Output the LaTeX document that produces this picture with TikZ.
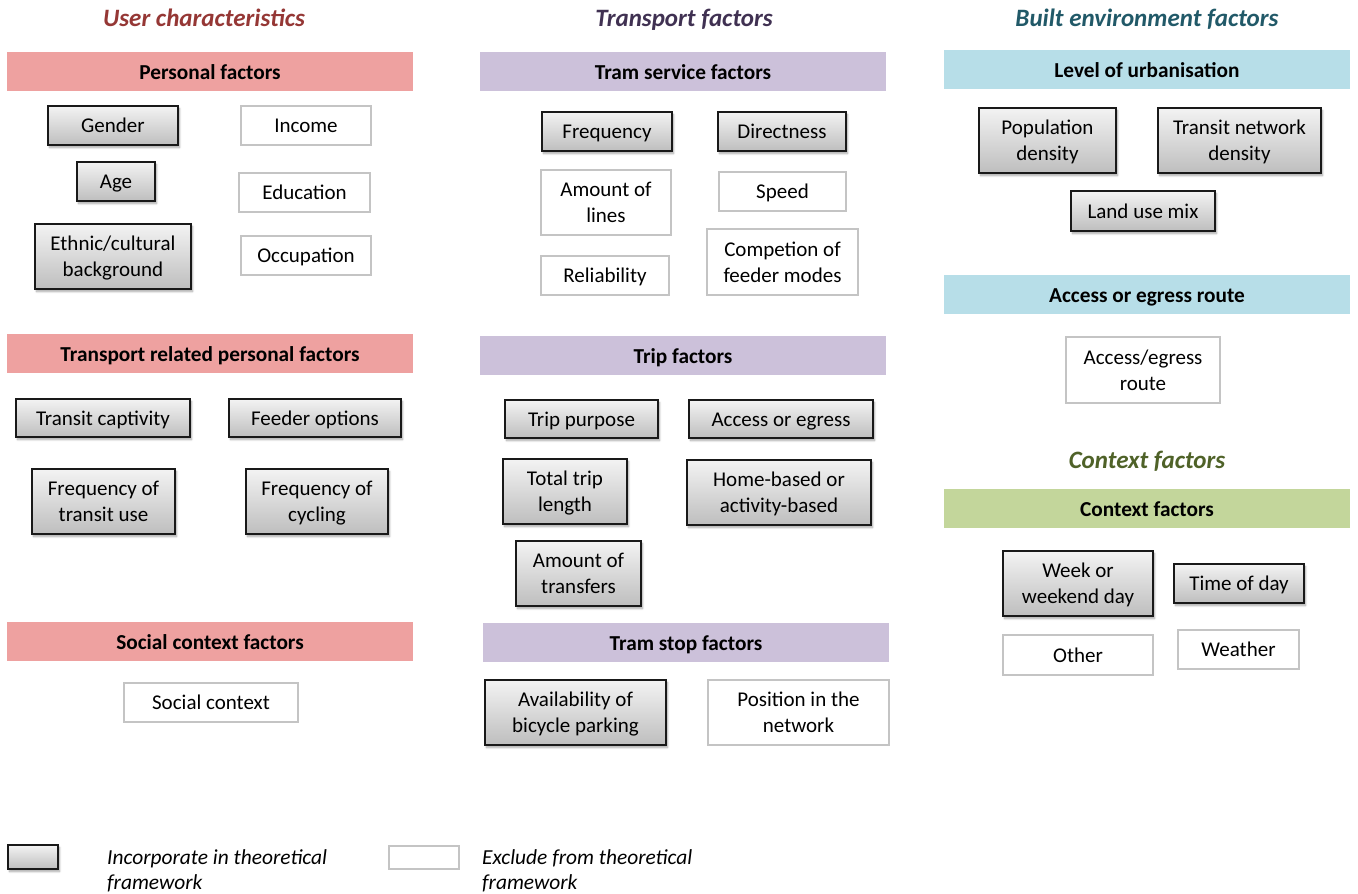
\documentclass[tikz,border=0pt]{standalone}
\usepackage{fontspec}
\setmainfont{Carlito}
\usetikzlibrary{shadows.blur}

\definecolor{userc}{HTML}{953735}
\definecolor{transc}{HTML}{403152}
\definecolor{builtc}{HTML}{215968}
\definecolor{contc}{HTML}{4F6228}
\definecolor{userhdr}{HTML}{EEA1A0}
\definecolor{transhdr}{HTML}{CCC1DA}
\definecolor{builthdr}{HTML}{B7DEE8}
\definecolor{conthdr}{HTML}{C3D69B}
\definecolor{boxtop}{HTML}{F3F3F3}
\definecolor{boxbot}{HTML}{BEBEBE}
\definecolor{exclline}{HTML}{C4C4C4}

\tikzset{
  coltitle/.style={font=\fontsize{25}{30}\selectfont\bfseries\itshape, inner sep=0, anchor=base},
  hdrbar/.style={draw=none, inner sep=0, text height=15pt, text depth=0pt,
    font=\fontsize{21.3}{25}\selectfont\bfseries},
  inbox/.style={draw=black!90, line width=1.1pt, top color=boxtop, bottom color=boxbot,
    inner sep=0, align=center, font=\fontsize{21}{26}\selectfont,
    blur shadow={shadow xshift=1.5pt, shadow yshift=-2.5pt, shadow blur steps=6,
      shadow blur radius=2pt, shadow opacity=35}},
  exbox/.style={draw=exclline, line width=1.2pt, fill=white, inner sep=0, align=center,
    font=\fontsize{21}{26}\selectfont},
  legendtext/.style={font=\fontsize{21.4}{25}\selectfont\itshape, align=left, inner sep=0,
    anchor=north west}
}

% strut that centres the capitals of a line in its box
\newcommand\capstrut{\rule[-0.15em]{0pt}{1.0em}}

% box given by its corners: style, name, x1, y1, x2, y2, text
\newcommand\factorbox[7]{%
  \node[#1, minimum width={#5-#3}, minimum height={#6-#4}] (#2) at ({(#3+#5)/2},{(#4+#6)/2}) {\capstrut#7\capstrut};}

\begin{document}
\begin{tikzpicture}[x=1pt, y=-1pt]
\useasboundingbox (0,0) rectangle (1358,894);

% column titles
\node[coltitle, text=userc]  (tuser)  at (204,27)   {User characteristics};
\node[coltitle, text=transc] (ttrans) at (684,27)   {Transport factors};
\node[coltitle, text=builtc] (tbuilt) at (1147,27)  {Built environment factors};
\node[coltitle, text=contc]  (tcont)  at (1147,468) {Context factors};

% section header bars
\factorbox{hdrbar, fill=userhdr}{hpers}{7}{52}{413}{91}{Personal factors}
\factorbox{hdrbar, fill=userhdr}{htrp}{7}{334}{413}{373}{Transport related personal factors}
\factorbox{hdrbar, fill=userhdr}{hsoc}{7}{622}{413}{661}{Social context factors}
\factorbox{hdrbar, fill=transhdr}{hserv}{480}{52}{886}{91}{Tram service factors}
\factorbox{hdrbar, fill=transhdr}{htrip}{480}{336}{886}{375}{Trip factors}
\factorbox{hdrbar, fill=transhdr}{hstop}{483}{623}{889}{662}{Tram stop factors}
\factorbox{hdrbar, fill=builthdr}{hurb}{944}{50}{1350}{89}{Level of urbanisation}
\factorbox{hdrbar, fill=builthdr}{hroute}{944}{275}{1350}{314}{Access or egress route}
\factorbox{hdrbar, fill=conthdr}{hcont}{944}{489}{1350}{528}{Context factors}

% user characteristics
\factorbox{inbox}{gender}{48}{106}{178}{145}{Gender}
\factorbox{exbox}{income}{241}{106}{371}{145}{Income}
\factorbox{inbox}{age}{77}{162}{155}{201}{Age}
\factorbox{exbox}{educ}{239}{173}{370}{212}{Education}
\factorbox{inbox}{ethnic}{35}{224}{191}{289}{Ethnic/cultural\\background}
\factorbox{exbox}{occup}{241}{236}{371}{275}{Occupation}
\factorbox{inbox}{captive}{16}{399}{190}{437}{Transit captivity}
\factorbox{inbox}{feeder}{229}{399}{401}{437}{Feeder options}
\factorbox{inbox}{freqtr}{32}{469}{175}{534}{Frequency of\\transit use}
\factorbox{inbox}{freqcy}{246}{469}{388}{534}{Frequency of\\cycling}
\factorbox{exbox}{social}{124}{683}{298}{722}{Social context}

% transport factors
\factorbox{inbox}{freq}{542}{112}{672}{151}{Frequency}
\factorbox{inbox}{direct}{718}{112}{846}{151}{Directness}
\factorbox{exbox}{lines}{541}{170}{671}{235}{Amount of\\lines}
\factorbox{exbox}{speed}{719}{172}{846}{211}{Speed}
\factorbox{exbox}{reliab}{541}{256}{669}{295}{Reliability}
\factorbox{exbox}{compet}{707}{229}{858}{295}{Competion of\\feeder modes}
\factorbox{inbox}{purpose}{505}{400}{658}{438}{Trip purpose}
\factorbox{inbox}{access}{689}{400}{873}{438}{Access or egress}
\factorbox{inbox}{length}{503}{459}{627}{524}{Total trip\\length}
\factorbox{inbox}{home}{687}{460}{871}{525}{Home-based or\\activity-based}
\factorbox{inbox}{transf}{516}{541}{641}{606}{Amount of\\transfers}
\factorbox{inbox}{bike}{485}{680}{666}{745}{Availability of\\bicycle parking}
\factorbox{exbox}{posit}{708}{680}{889}{745}{Position in the\\network}

% built environment and context factors
\factorbox{inbox}{popd}{979}{108}{1116}{173}{Population\\density}
\factorbox{inbox}{netd}{1158}{108}{1321}{173}{Transit network\\density}
\factorbox{inbox}{landuse}{1071}{191}{1215}{231}{Land use mix}
\factorbox{exbox}{route}{1066}{337}{1220}{403}{Access/egress\\route}
\factorbox{inbox}{week}{1003}{551}{1153}{616}{Week or\\weekend day}
\factorbox{inbox}{tod}{1174}{564}{1304}{603}{Time of day}
\factorbox{exbox}{other}{1003}{635}{1153}{675}{Other}
\factorbox{exbox}{weather}{1178}{630}{1299}{669}{Weather}

% legend
\factorbox{inbox}{leginc}{8}{845}{58}{869}{}
\node[legendtext] (leginctext) at (107,849) {Incorporate in theoretical\\framework};
\factorbox{exbox}{legexc}{389}{846}{459}{869}{}
\node[legendtext] (legexctext) at (482,849) {Exclude from theoretical\\framework};
\end{tikzpicture}
\end{document}
